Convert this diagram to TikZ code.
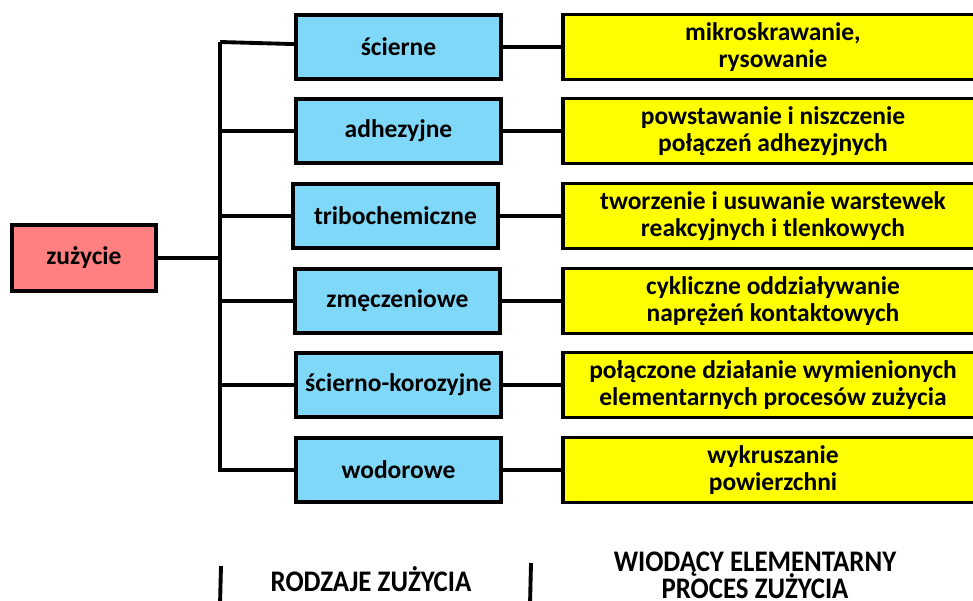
\documentclass[tikz,border=0pt]{standalone}
\usepackage{fontspec}
\setmainfont{Carlito}
\newfontfamily\condfont[FakeStretch=0.9]{Carlito}
\usetikzlibrary{positioning}
\definecolor{wearRed}{RGB}{255,128,128}
\definecolor{wearBlue}{RGB}{128,216,248}
\definecolor{wearYellow}{RGB}{255,255,0}
\newcommand{\boxfont}{\fontsize{14.5}{15.5}\selectfont\bfseries}
\newcommand{\headfont}{\condfont\fontsize{17}{15.3}\selectfont\bfseries\lineskiplimit=-10pt}

\begin{document}
\begin{tikzpicture}[
    kind/.style={draw, line width=2.2pt, fill=wearBlue, minimum width=4.1cm, minimum height=1.28cm, font=\boxfont, align=center},
    process/.style={draw, line width=2.2pt, fill=wearYellow, minimum width=8.4cm, minimum height=1.3cm, font=\boxfont, align=center, inner sep=1pt},
    conn/.style={line width=2.2pt}
]
    \useasboundingbox (0,0) rectangle (19.46,12);
    \def\rowOne{11.06}
    \def\rowTwo{9.38}
    \def\rowThree{7.68}
    \def\rowFour{5.98}
    \def\rowFive{4.30}
    \def\rowSix{2.60}
    \node[draw, line width=2.2pt, fill=wearRed, minimum width=2.88cm, minimum height=1.32cm, font=\boxfont] (wear) at (1.68,6.84) {zużycie};
    \node[kind] (abrasive) at (7.97,\rowOne) {ścierne};
    \node[kind] (adhesive) at (7.97,\rowTwo) {adhezyjne};
    \node[kind] (tribochem) at (7.91,\rowThree) {tribochemiczne};
    \node[kind] (fatigue) at (7.95,\rowFour) {zmęczeniowe};
    \node[kind] (corrosive) at (7.97,\rowFive) {ścierno-korozyjne};
    \node[kind] (hydrogen) at (7.97,\rowSix) {wodorowe};
    \node[process] (cutting) at (15.46,\rowOne) {mikroskrawanie,\\rysowanie};
    \node[process] (bonding) at (15.46,\rowTwo) {powstawanie i niszczenie\\połączeń adhezyjnych};
    \node[process] (layers) at (15.46,\rowThree) {tworzenie i usuwanie warstewek\\reakcyjnych i tlenkowych};
    \node[process] (cyclic) at (15.46,\rowFour) {cykliczne oddziaływanie\\naprężeń kontaktowych};
    \node[process] (combined) at (15.46,\rowFive) {połączone działanie wymienionych\\elementarnych procesów zużycia};
    \node[process] (spalling) at (15.46,\rowSix) {wykruszanie\\powierzchni};
    \coordinate (trunkTop) at (4.4,11.16);
    \coordinate (trunkBottom) at (4.4,2.56);
    \draw[conn] (trunkTop) -- (trunkBottom);
    \draw[conn] (wear) -- (wear -| trunkTop);
    \draw[conn] (trunkTop) -- (abrasive);
    \draw[conn] (adhesive) -- (adhesive -| trunkTop);
    \draw[conn] (tribochem) -- (tribochem -| trunkTop);
    \draw[conn] (fatigue) -- (fatigue -| trunkTop);
    \draw[conn] (corrosive) -- (corrosive -| trunkTop);
    \draw[conn] (hydrogen) -- (hydrogen -| trunkTop);
    \draw[conn] (abrasive) -- (cutting);
    \draw[conn] (adhesive) -- (bonding);
    \draw[conn] (tribochem) -- (layers);
    \draw[conn] (fatigue) -- (cyclic);
    \draw[conn] (corrosive) -- (combined);
    \draw[conn] (hydrogen) -- (spalling);
    % column headings
    \node[font=\headfont] (kindsHead) at (7.42,0.42) {RODZAJE ZUŻYCIA};
    \node[font=\headfont, align=center] (processHead) at (15.1,0.50) {WIODĄCY ELEMENTARNY\\PROCES ZUŻYCIA};
    \draw[line width=2.2pt] (4.42,0.68) -- (4.40,-0.1);
    \draw[line width=2.2pt] (10.62,0.74) -- (10.60,-0.1);
\end{tikzpicture}
\end{document}
